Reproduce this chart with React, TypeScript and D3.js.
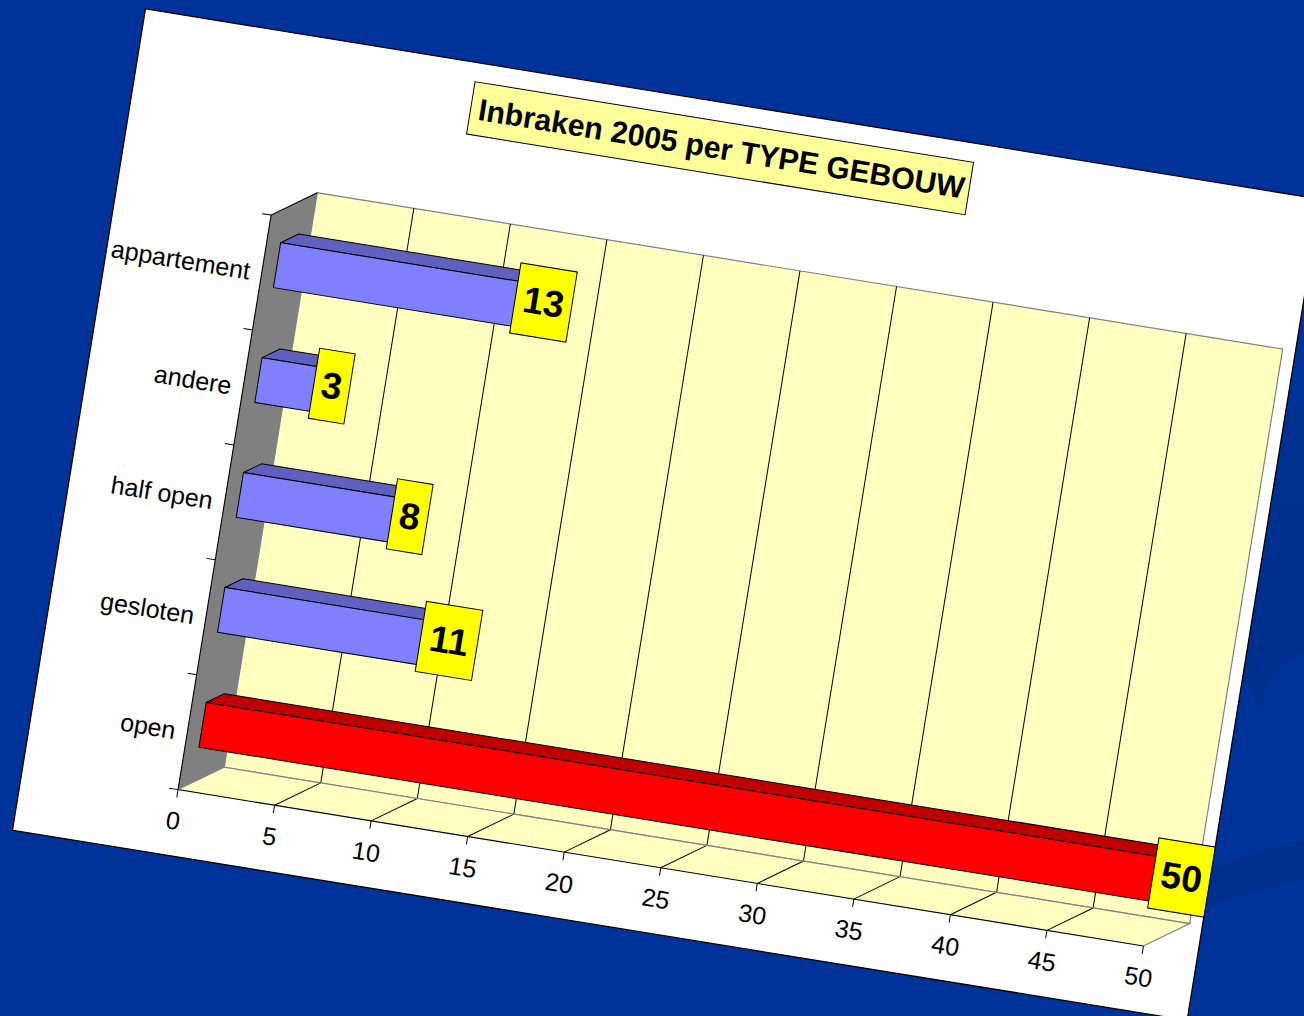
import * as React from 'react';
import * as d3 from 'd3';

// chart data
const CATEGORIES = ['appartement', 'andere', 'half open', 'gesloten', 'open'];
const VALUES = [13, 3, 8, 11, 50];
const X_DOMAIN = [0, 50];
const X_TICKS = [0, 5, 10, 15, 20, 25, 30, 35, 40, 45, 50];
const TITLE = 'Inbraken 2005 per TYPE GEBOUW';
const HIGHLIGHT = 'open';

// layout (unrotated frame, the whole slide is turned afterwards)
const WIDTH = 1304;
const HEIGHT = 1016;
const ANGLE = 9.2;
const CARD = { x: 145, y: -14.5, w: 1190, h: 832 };
const PLOT = { left: 302, right: 1280, top: 169, bottom: 751 };
const DEPTH = { x: 42, y: -29.5 };
const BAR_FRONT = 0.33;
const BAR_BACK = 0.72;
const FONT = '"Liberation Sans", Arial, Helvetica, sans-serif';

export default function App() {
    const ref = React.useRef<SVGSVGElement>(null);

    React.useEffect(() => {
        const svg = d3.select(ref.current);
        svg.selectAll('*').remove();

        // BACKGROUND
        svg.append('rect')
            .attr('width', WIDTH)
            .attr('height', HEIGHT)
            .attr('fill', '#003399');

        const swoosh = svg.append('g').attr('fill', '#002f8c').attr('opacity', 0.7);
        swoosh.append('ellipse')
            .attr('cx', 1340).attr('cy', 580).attr('rx', 110).attr('ry', 190);
        swoosh.append('path')
            .attr('d', 'M1150,900 C1200,870 1260,850 1304,840 L1304,880 C1260,890 1200,905 1150,925 Z');
        swoosh.append('ellipse')
            .attr('cx', 1320).attr('cy', 720).attr('rx', 60).attr('ry', 70)
            .attr('fill', '#003399');

        const shift = (x: number, y: number, f: number): [number, number] =>
            [x + DEPTH.x * f, y + DEPTH.y * f];
        const poly = (pts: [number, number][]) => pts.map(p => p.join(',')).join(' ');

        // ROTATED SLIDE
        const g = svg.append('g').attr('transform', `rotate(${ANGLE})`);

        g.append('rect')
            .attr('x', CARD.x).attr('y', CARD.y)
            .attr('width', CARD.w).attr('height', CARD.h)
            .attr('fill', '#ffffff')
            .attr('stroke', '#000000')
            .attr('stroke-width', 1.3);

        // TITLE
        g.append('rect')
            .attr('x', 482).attr('y', 4.7)
            .attr('width', 505).attr('height', 53)
            .attr('fill', '#ffff99')
            .attr('stroke', '#000000')
            .attr('stroke-width', 1);
        g.append('text')
            .attr('x', 736).attr('y', 42)
            .attr('text-anchor', 'middle')
            .attr('font-family', FONT)
            .attr('font-weight', 'bold')
            .attr('font-size', 30.5)
            .attr('textLength', 492)
            .attr('lengthAdjust', 'spacingAndGlyphs')
            .text(TITLE);

        // SCALES
        const xScale = d3.scaleLinear().domain(X_DOMAIN).range([PLOT.left, PLOT.right]);
        const yScale = d3.scaleBand<string>()
            .domain(CATEGORIES)
            .range([PLOT.top, PLOT.bottom])
            .paddingInner(0.61)
            .paddingOuter(0.305);
        const step = yScale.step();

        // BACK WALL
        const [bx0, by0] = shift(PLOT.left, PLOT.top, 1);
        const [bx1, by1] = shift(PLOT.right, PLOT.bottom, 1);
        g.append('rect')
            .attr('x', bx0).attr('y', by0)
            .attr('width', bx1 - bx0).attr('height', by1 - by0)
            .attr('fill', '#ffffc0')
            .attr('stroke', '#808080')
            .attr('stroke-width', 1.2);

        g.append('g')
            .selectAll('line')
            .data(X_TICKS.slice(1, -1))
            .join('line')
            .attr('x1', d => xScale(d) + DEPTH.x).attr('x2', d => xScale(d) + DEPTH.x)
            .attr('y1', by0).attr('y2', by1)
            .attr('stroke', '#000000')
            .attr('stroke-width', 1);

        // FLOOR
        g.append('polygon')
            .attr('points', poly([
                [PLOT.left, PLOT.bottom],
                [PLOT.right, PLOT.bottom],
                shift(PLOT.right, PLOT.bottom, 1),
                shift(PLOT.left, PLOT.bottom, 1),
            ]))
            .attr('fill', '#ffffc0');

        g.append('g')
            .selectAll('line')
            .data(X_TICKS.slice(1, -1))
            .join('line')
            .attr('x1', d => xScale(d)).attr('y1', PLOT.bottom)
            .attr('x2', d => xScale(d) + DEPTH.x).attr('y2', PLOT.bottom + DEPTH.y)
            .attr('stroke', '#000000')
            .attr('stroke-width', 1);

        g.append('polyline')
            .attr('points', poly([
                shift(PLOT.left, PLOT.bottom, 1),
                shift(PLOT.right, PLOT.bottom, 1),
                [PLOT.right, PLOT.bottom],
            ]))
            .attr('fill', 'none')
            .attr('stroke', '#808080')
            .attr('stroke-width', 1.2);

        // LEFT WALL
        g.append('polygon')
            .attr('points', poly([
                [PLOT.left, PLOT.top],
                shift(PLOT.left, PLOT.top, 1),
                shift(PLOT.left, PLOT.bottom, 1),
                [PLOT.left, PLOT.bottom],
            ]))
            .attr('fill', '#808080');
        g.append('polyline')
            .attr('points', poly([
                shift(PLOT.left, PLOT.top, 1),
                [PLOT.left, PLOT.top],
                [PLOT.left, PLOT.bottom],
                [PLOT.right, PLOT.bottom],
            ]))
            .attr('fill', 'none')
            .attr('stroke', '#000000')
            .attr('stroke-width', 1.1);
        g.append('line')
            .attr('x1', PLOT.left).attr('y1', PLOT.bottom)
            .attr('x2', PLOT.left + DEPTH.x).attr('y2', PLOT.bottom + DEPTH.y)
            .attr('stroke', '#808080');

        // AXES
        const yTicks = d3.range(CATEGORIES.length + 1).map(i => PLOT.top + i * step);
        g.append('g')
            .selectAll('line')
            .data(yTicks)
            .join('line')
            .attr('x1', PLOT.left - 9).attr('x2', PLOT.left)
            .attr('y1', d => d).attr('y2', d => d)
            .attr('stroke', '#000000');

        g.append('g')
            .selectAll('text')
            .data(CATEGORIES)
            .join('text')
            .attr('x', PLOT.left - 12)
            .attr('y', d => (yScale(d) as number) + yScale.bandwidth() / 2)
            .attr('text-anchor', 'end')
            .attr('dominant-baseline', 'central')
            .attr('font-family', FONT)
            .attr('font-size', 25)
            .text(d => d);

        g.append('g')
            .selectAll('line')
            .data(X_TICKS)
            .join('line')
            .attr('x1', d => xScale(d)).attr('x2', d => xScale(d))
            .attr('y1', PLOT.bottom).attr('y2', PLOT.bottom + 8)
            .attr('stroke', '#000000');

        g.append('g')
            .selectAll('text')
            .data(X_TICKS)
            .join('text')
            .attr('x', d => xScale(d))
            .attr('y', PLOT.bottom + 31)
            .attr('text-anchor', 'middle')
            .attr('dominant-baseline', 'central')
            .attr('font-family', FONT)
            .attr('font-size', 25)
            .text(d => d);

        // BARS
        const rows = CATEGORIES.map((c, i) => ({ c, v: VALUES[i] }));
        const bars = g.append('g')
            .selectAll('g')
            .data(rows)
            .join('g');

        const front = (d) => {
            const y0 = yScale(d.c) as number;
            const y1 = y0 + yScale.bandwidth();
            return {
                tl: shift(xScale(0), y0, BAR_FRONT),
                tr: shift(xScale(d.v), y0, BAR_FRONT),
                br: shift(xScale(d.v), y1, BAR_FRONT),
                bl: shift(xScale(0), y1, BAR_FRONT),
                btl: shift(xScale(0), y0, BAR_BACK),
                btr: shift(xScale(d.v), y0, BAR_BACK),
                bbr: shift(xScale(d.v), y1, BAR_BACK),
            };
        };
        const isHi = d => d.c === HIGHLIGHT;

        bars.append('polygon')
            .attr('points', d => { const f = front(d); return poly([f.tl, f.tr, f.btr, f.btl]); })
            .attr('fill', d => isHi(d) ? '#c00000' : '#6060c0')
            .attr('stroke', '#000000')
            .attr('stroke-linejoin', 'round');
        bars.append('polygon')
            .attr('points', d => { const f = front(d); return poly([f.tr, f.btr, f.bbr, f.br]); })
            .attr('fill', d => isHi(d) ? '#800000' : '#404090')
            .attr('stroke', '#000000');
        bars.append('polygon')
            .attr('points', d => { const f = front(d); return poly([f.tl, f.tr, f.br, f.bl]); })
            .attr('fill', d => isHi(d) ? '#ff0000' : '#8080ff')
            .attr('stroke', '#000000')
            .attr('stroke-linejoin', 'round');

        // VALUE LABELS
        const mid = (BAR_FRONT + BAR_BACK) / 2;
        const boxH = 71;
        const labels = g.append('g')
            .selectAll('g')
            .data(rows)
            .join('g')
            .attr('transform', d => {
                const w = String(d.v).length * 21 + 15;
                const [cx0, cy] = shift(xScale(d.v), (yScale(d.c) as number) + yScale.bandwidth() / 2, mid);
                const cx = Math.min(cx0 + 6.5, CARD.x + CARD.w - w / 2);
                return `translate(${cx},${cy})`;
            });

        labels.append('rect')
            .attr('x', d => -(String(d.v).length * 21 + 15) / 2)
            .attr('y', -boxH / 2)
            .attr('width', d => String(d.v).length * 21 + 15)
            .attr('height', boxH)
            .attr('fill', '#ffff00')
            .attr('stroke', '#000000')
            .attr('stroke-width', 1);
        labels.append('text')
            .attr('text-anchor', 'middle')
            .attr('dominant-baseline', 'central')
            .attr('font-family', FONT)
            .attr('font-weight', 'bold')
            .attr('font-size', 37)
            .text(d => d.v);
    }, []);

    return (
        <svg
            ref={ref}
            width={WIDTH}
            height={HEIGHT}
            style={{ position: 'absolute', left: 0, top: 0, display: 'block' }}
        />
    );
}
